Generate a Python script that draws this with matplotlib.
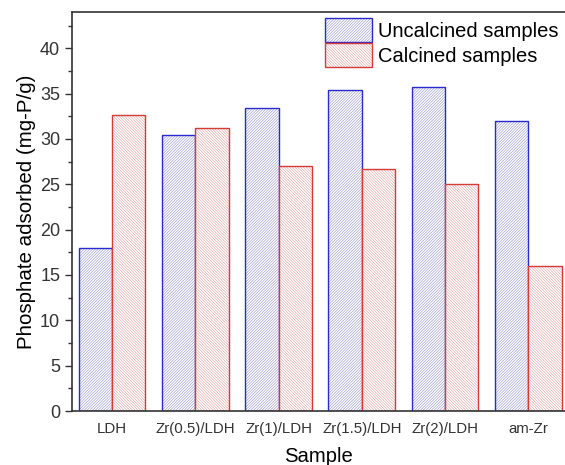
import numpy as np
import matplotlib
matplotlib.use("Agg")
import matplotlib.pyplot as plt
from matplotlib.patches import Patch
from matplotlib.ticker import MultipleLocator

plt.rcParams["font.family"] = ["Liberation Sans", "DejaVu Sans"]
plt.rcParams["hatch.linewidth"] = 0.45

samples = ["LDH", "Zr(0.5)/LDH", "Zr(1)/LDH", "Zr(1.5)/LDH", "Zr(2)/LDH", "am-Zr"]
uncalcined = [18.0, 30.4, 33.4, 35.4, 35.7, 32.0]
calcined = [32.6, 31.2, 27.0, 26.7, 25.0, 16.0]

blue_edge = "#2a2ad0"
blue_hatch = "#9a9ac8"
red_edge = "#d83a3a"
red_hatch = "#dca8a8"
hatch_up = "/" * 12
hatch_down = "\\" * 12

x = np.arange(len(samples))
width = 0.4

fig = plt.figure(figsize=(5.65, 4.65), dpi=100)
ax = fig.add_axes([0.1274, 0.1161, 0.8726, 0.8581])

# hatch layer, then outline on top
ax.bar(x - width / 2, uncalcined, width, color="white", edgecolor=blue_hatch,
       hatch=hatch_up, linewidth=0)
ax.bar(x - width / 2, uncalcined, width, fill=False, edgecolor=blue_edge,
       linewidth=1.0)
ax.bar(x + width / 2, calcined, width, color="white", edgecolor=red_hatch,
       hatch=hatch_down, linewidth=0)
ax.bar(x + width / 2, calcined, width, fill=False, edgecolor=red_edge,
       linewidth=1.0)

ax.set_xlim(-0.48, 5.44)
ax.set_ylim(0, 44)
ax.yaxis.set_major_locator(MultipleLocator(5))
ax.yaxis.set_minor_locator(MultipleLocator(2.5))
ax.set_xticks(x)
ax.set_xticklabels(samples, fontsize=10.8, color="#333333")
ax.tick_params(axis="x", length=0, pad=8)
ax.tick_params(axis="y", which="major", length=5, width=1, labelsize=13,
               direction="out", colors="#333333")
ax.tick_params(axis="y", which="minor", length=3, width=1, direction="out",
               colors="#333333")

for side in ["left", "bottom", "top"]:
    ax.spines[side].set_linewidth(1.2)
    ax.spines[side].set_color("#333333")
ax.spines["right"].set_visible(False)

ax.set_xlabel("Sample", fontsize=14.6, labelpad=8)
ax.set_ylabel("Phosphate adsorbed (mg-P/g)", fontsize=14.8, labelpad=3)

# legend keys: light hatch with a solid outline, same as the bars
blue_key = (Patch(facecolor="white", edgecolor=blue_hatch, hatch=hatch_up, linewidth=0),
            Patch(fill=False, edgecolor=blue_edge, linewidth=1.0))
red_key = (Patch(facecolor="white", edgecolor=red_hatch, hatch=hatch_down, linewidth=0),
           Patch(fill=False, edgecolor=red_edge, linewidth=1.0))
ax.legend([blue_key, red_key], ["Uncalcined samples", "Calcined samples"],
          loc="upper right", frameon=False, fontsize=14.5,
          handlelength=2.35, handleheight=1.45, handletextpad=0.3,
          labelspacing=0.05, borderaxespad=0.0, borderpad=0.3)

fig.savefig("out.png", dpi=100)
